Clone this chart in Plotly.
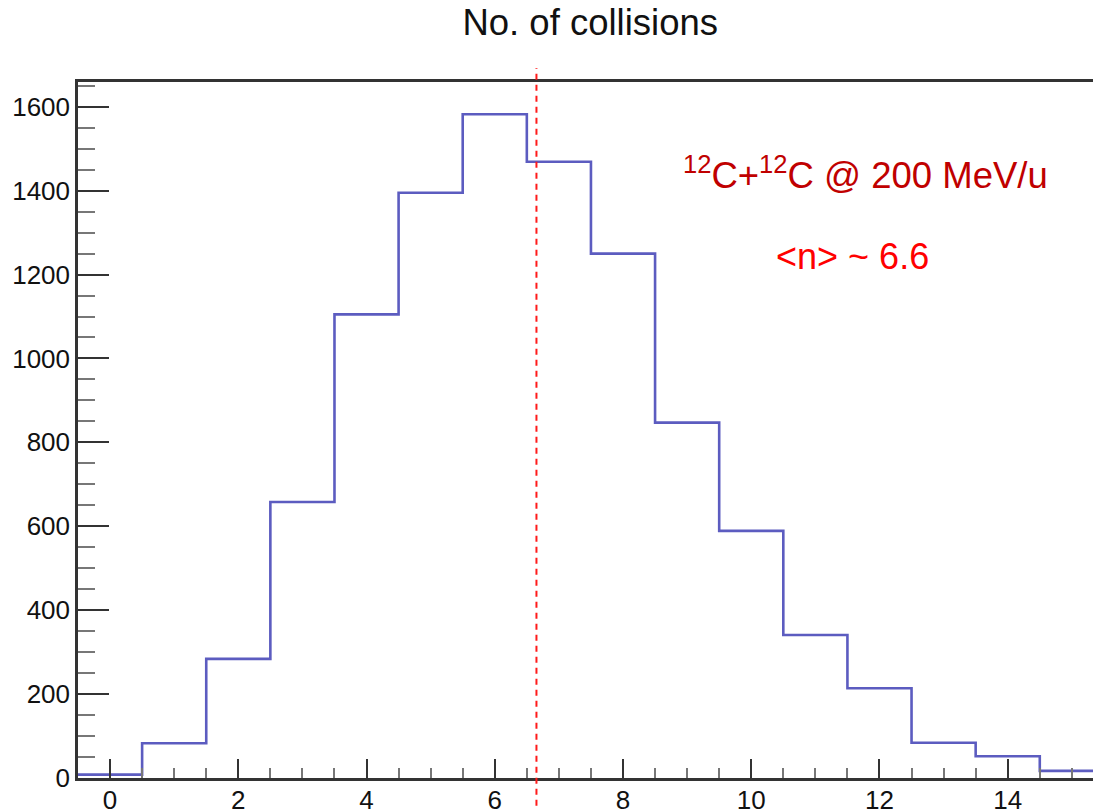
import plotly.graph_objects as go

# Histogram of the number of collisions per event
bin_centers = list(range(16))
counts = [8, 83, 284, 658, 1105, 1395, 1582, 1469, 1250, 847, 589, 341, 214, 84, 52, 17]
mean_n = 6.65
y_max = 1659

title_text = "No. of collisions"
system_label = "<sup>12</sup>C+<sup>12</sup>C @ 200 MeV/u"
mean_label = "<n> ~ 6.6"

# step outline: left bin edges, last value repeated to close the final bin
edges = [c - 0.5 for c in bin_centers] + [bin_centers[-1] + 0.5]
steps = counts + [counts[-1]]

fig = go.Figure()
fig.add_trace(go.Scatter(
    x=edges, y=steps, mode="lines", line_shape="hv",
    line=dict(color="#5c5cc0", width=2.6),
    hoverinfo="skip", showlegend=False,
))

# mean marker
fig.add_shape(type="line", xref="x", yref="paper",
              x0=mean_n, x1=mean_n, y0=-0.04, y1=1.02,
              line=dict(color="#ff1a1a", width=2, dash="6px,5px"))

fig.add_annotation(x=0.776, xref="paper", xanchor="center", y=1442, yref="y",
                   text=system_label, showarrow=False,
                   font=dict(family="Liberation Sans", size=36.5, color="#c00000"))
fig.add_annotation(x=0.763, xref="paper", xanchor="center", y=1244, yref="y",
                   text=mean_label, showarrow=False,
                   font=dict(family="Liberation Sans", size=36, color="#ff0000"))

axis_common = dict(
    showgrid=False, zeroline=False, showline=True, automargin=False,
    linecolor="#333333", linewidth=2.5,
    ticks="inside", tickcolor="#333333", tickwidth=2,
    tickfont=dict(family="Liberation Sans", size=26, color="#111111"),
)

fig.update_layout(
    width=1093, height=810,
    margin=dict(l=78, r=0, t=82, b=32),
    paper_bgcolor="white", plot_bgcolor="white",
    title=dict(text=title_text, x=0.54, xanchor="center", y=0.972, yanchor="middle",
               font=dict(family="Liberation Sans", size=36.5, color="#111111")),
    xaxis=dict(
        range=[-0.5, 15.33], tickmode="linear", tick0=0, dtick=2, ticklen=19,
        mirror=True,
        minor=dict(ticks="inside", dtick=0.5, tick0=0, ticklen=10,
                   tickcolor="#777777", tickwidth=2),
        ticklabelstandoff=-3,
        **axis_common,
    ),
    yaxis=dict(
        range=[0, y_max], tickmode="linear", tick0=0, dtick=200, ticklen=31,
        minor=dict(ticks="inside", dtick=50, tick0=0, ticklen=17,
                   tickcolor="#777777", tickwidth=2),
        ticklabelstandoff=0,
        **axis_common,
    ),
)

fig.write_html("out.html")
